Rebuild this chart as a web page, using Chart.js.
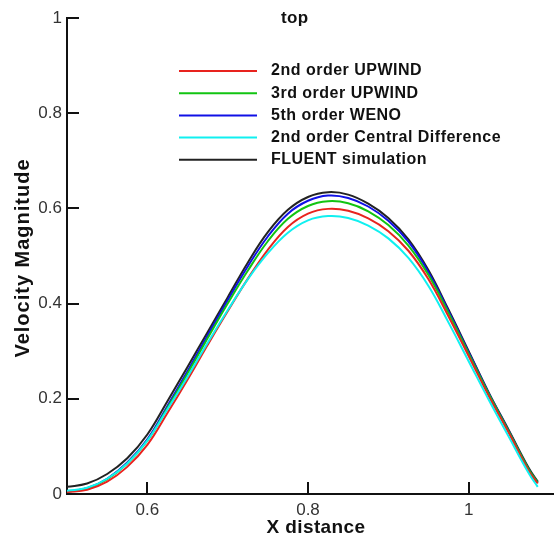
<!DOCTYPE html>
<html>
<head>
<meta charset="utf-8">
<script src="https://cdn.jsdelivr.net/npm/chart.js@4"></script>
<style>
  html, body { margin: 0; padding: 0; background: #fff; }
  #wrap { width: 556px; height: 544px; }
</style>
</head>
<body>
<div id="wrap"><canvas id="myChart" width="556" height="544"></canvas></div>
<script>
// x positions along the "top" line
const xDist = [0.5, 0.525, 0.55, 0.575, 0.6, 0.625, 0.65, 0.675, 0.7, 0.725, 0.75, 0.775, 0.8,
  0.825, 0.85, 0.875, 0.9, 0.925, 0.95, 0.975, 1.0, 1.025, 1.05, 1.075, 1.086];

const upwind2 = [0.004, 0.009, 0.026, 0.057, 0.103, 0.17, 0.24, 0.313, 0.384, 0.452, 0.513, 0.561, 0.589,
  0.599, 0.595, 0.579, 0.552, 0.511, 0.451, 0.373, 0.29, 0.206, 0.128, 0.048, 0.022];
const upwind3 = [0.005, 0.012, 0.031, 0.064, 0.112, 0.181, 0.253, 0.327, 0.4, 0.469, 0.531, 0.578, 0.605,
  0.615, 0.611, 0.594, 0.565, 0.522, 0.46, 0.38, 0.295, 0.21, 0.131, 0.051, 0.024];
const weno5 = [0.005, 0.012, 0.032, 0.066, 0.115, 0.185, 0.258, 0.333, 0.407, 0.478, 0.541, 0.589, 0.616,
  0.627, 0.622, 0.604, 0.574, 0.53, 0.466, 0.384, 0.298, 0.212, 0.132, 0.051, 0.024];
const central2 = [0.007, 0.013, 0.032, 0.064, 0.112, 0.178, 0.246, 0.317, 0.386, 0.451, 0.506, 0.549, 0.575,
  0.584, 0.58, 0.564, 0.537, 0.496, 0.437, 0.36, 0.279, 0.198, 0.12, 0.043, 0.015];
const fluent = [0.015, 0.022, 0.042, 0.075, 0.125, 0.195, 0.267, 0.34, 0.413, 0.486, 0.55, 0.597, 0.624,
  0.634, 0.629, 0.61, 0.58, 0.535, 0.47, 0.387, 0.30, 0.213, 0.134, 0.054, 0.026];

const seriesNames = ['2nd order UPWIND', '3rd order UPWIND', '5th order WENO',
  '2nd order Central Difference', 'FLUENT simulation'];
const seriesColors = ['#e8231e', '#12c412', '#1010e6', '#10f0f0', '#222222'];
const seriesValues = [upwind2, upwind3, weno5, central2, fluent];

const xTicks = [0.6, 0.8, 1.0];

const FONT = '"Liberation Sans", Arial, sans-serif';

function toPoints(vals) {
  return vals.map((v, i) => ({ x: xDist[i], y: v }));
}

// draw order: cyan first, black last (black on top)
const order = [3, 0, 1, 2, 4];
const datasets = order.map(i => ({
  label: seriesNames[i],
  data: toPoints(seriesValues[i]),
  borderColor: seriesColors[i],
  backgroundColor: seriesColors[i],
  borderWidth: 2,
  pointRadius: 0,
  tension: 0.4,
  fill: false
}));

// inward tick marks, titles and legend drawn inside the plot
const extras = {
  id: 'extras',
  afterDraw(chart) {
    const c = chart.ctx;
    const xs = chart.scales.x, ys = chart.scales.y;
    c.save();
    c.strokeStyle = '#111';
    c.lineWidth = 2;
    ys.ticks.forEach(t => {
      const py = Math.round(ys.getPixelForValue(t.value));
      c.beginPath(); c.moveTo(xs.left, py); c.lineTo(xs.left + 12, py); c.stroke();
    });
    xs.ticks.forEach(t => {
      const px = Math.round(xs.getPixelForValue(t.value));
      c.beginPath(); c.moveTo(px, ys.bottom); c.lineTo(px, ys.bottom - 12); c.stroke();
    });

    c.fillStyle = '#111';
    c.textBaseline = 'middle';
    c.textAlign = 'left';
    c.letterSpacing = '0.3px';
    c.font = 'bold 17px ' + FONT;
    c.fillText('top', 281, 18);

    c.letterSpacing = '0.5px';
    c.font = 'bold 16px ' + FONT;
    seriesNames.forEach((name, i) => {
      const y = 71 + i * 22.2;
      c.strokeStyle = seriesColors[i];
      c.lineWidth = 2;
      c.beginPath(); c.moveTo(179, y); c.lineTo(257, y); c.stroke();
      c.fillStyle = '#111';
      c.fillText(name, 271, y);
    });

    // axis titles
    c.textAlign = 'center';
    c.font = 'bold 19px ' + FONT;
    c.letterSpacing = '0.4px';
    c.fillText('X distance', 316, 528);
    c.save();
    c.translate(23, 258);
    c.rotate(-Math.PI / 2);
    c.font = 'bold 20px ' + FONT;
    c.letterSpacing = '1px';
    c.fillText('Velocity Magnitude', 0, 0);
    c.restore();
    c.restore();
  }
};

const config = {
  type: 'line',
  data: { datasets },
  options: {
    responsive: false,
    animation: false,
    layout: { padding: { top: 18, right: 3, left: 0, bottom: 0 } },
    plugins: {
      legend: { display: false },
      tooltip: { enabled: false }
    },
    scales: {
      x: {
        type: 'linear',
        min: 0.5,
        max: 1.105,
        afterBuildTicks: scale => { scale.ticks = xTicks.map(v => ({ value: v })); },
        afterFit: scale => { scale.height = 50; },
        grid: { display: false, drawTicks: false },
        border: { display: true, color: '#111', width: 2 },
        ticks: {
          color: '#333',
          padding: 6,
          font: { size: 17, family: FONT },
          callback: v => String(+v.toFixed(1))
        }
      },
      y: {
        min: 0,
        max: 1,
        afterFit: scale => { scale.width = 67; },
        grid: { display: false, drawTicks: false },
        border: { display: true, color: '#111', width: 2 },
        ticks: {
          stepSize: 0.2,
          color: '#333',
          padding: 5,
          font: { size: 17, family: FONT },
          callback: v => String(+v.toFixed(1))
        }
      }
    }
  },
  plugins: [extras]
};

const myChart = new Chart(document.getElementById('myChart'), config);
</script>
</body>
</html>
